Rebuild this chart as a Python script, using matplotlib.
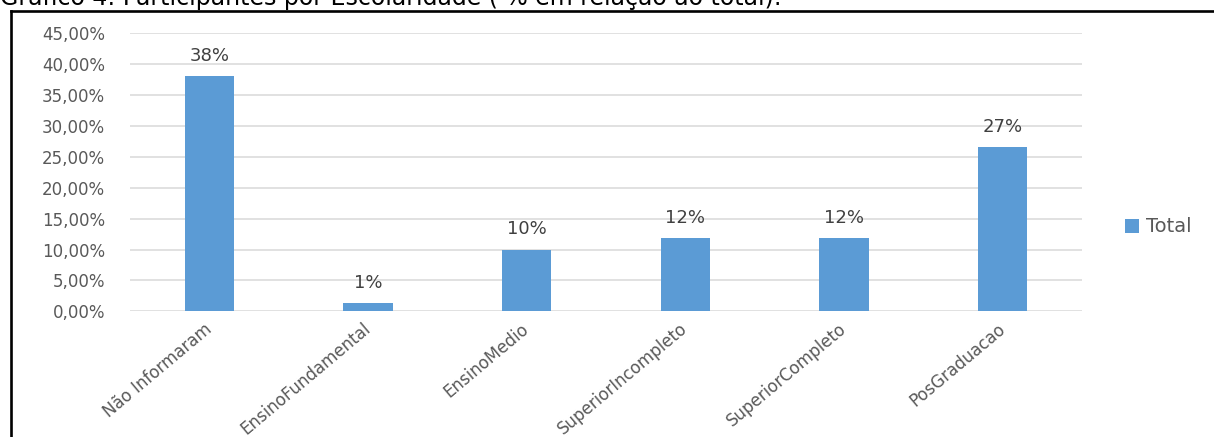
import numpy as np
import matplotlib
matplotlib.use("Agg")
import matplotlib.pyplot as plt
from matplotlib.lines import Line2D

categories = ["Não Informaram", "EnsinoFundamental", "EnsinoMedio",
              "SuperiorIncompleto", "SuperiorCompleto", "PosGraduacao"]
values = [38.1, 1.3, 10.0, 11.9, 11.9, 26.6]
yticks = [0, 5, 10, 15, 20, 25, 30, 35, 40, 45]
series_name = "Total"
title = "Gráfico 4: Participantes por Escolaridade ( % em relação ao total):"

W, H = 1214, 437
plt.rcParams['font.family'] = ['DejaVu Sans']
fig = plt.figure(figsize=(W / 100, H / 100), dpi=100)

ax = fig.add_axes([130 / W, (H - 311.3) / H, 952 / W, 278 / H])
x = np.arange(len(categories))
bars = ax.bar(x, values, width=0.31, color="#5B9BD5", label=series_name, zorder=3)

ax.set_xlim(-0.5, len(categories) - 0.5)
ax.set_ylim(0, 45)
ax.set_yticks(yticks)
ax.set_yticklabels([f"{v:.2f}%".replace(".", ",") for v in yticks],
                   color="#595959", fontsize=12)
ax.tick_params(axis="y", length=0, pad=18)
ax.yaxis.grid(True, color="#D9D9D9", lw=1.1, zorder=0)
ax.set_axisbelow(True)
for s in ax.spines.values():
    s.set_visible(False)

ax.set_xticks(x)
ax.set_xticklabels(categories, rotation=40, ha="right", va="center",
                   rotation_mode="anchor", color="#595959", fontsize=12)
ax.tick_params(axis="x", length=0, pad=11)
for lbl in ax.get_xticklabels():
    lbl.set_x(lbl.get_position()[0])

for b, v in zip(bars, values):
    ax.annotate(f"{v:.0f}%", (b.get_x() + b.get_width() / 2, v),
                xytext=(0, 8), textcoords="offset points",
                ha="center", va="bottom", color="#404040", fontsize=13)

fig.legend(handles=[bars], labels=[series_name], loc="center left",
           bbox_to_anchor=(1125 / W, 1 - 227 / H), frameon=False,
           fontsize=14, handlelength=0.72, handleheight=0.72,
           handletextpad=0.35, borderpad=0, borderaxespad=0,
           labelcolor="#595959")

# frame border
fig.add_artist(Line2D([10.5 / W, 10.5 / W], [0, 1 - 10.7 / H],
                      transform=fig.transFigure, color="black", lw=1.9))
fig.add_artist(Line2D([10.5 / W, 1], [1 - 10.7 / H, 1 - 10.7 / H],
                      transform=fig.transFigure, color="black", lw=1.9))

fig.text(0.0, 1 - 5 / H, title, ha="left", va="baseline",
         fontsize=17, color="black")

fig.savefig("out.png", dpi=100)
